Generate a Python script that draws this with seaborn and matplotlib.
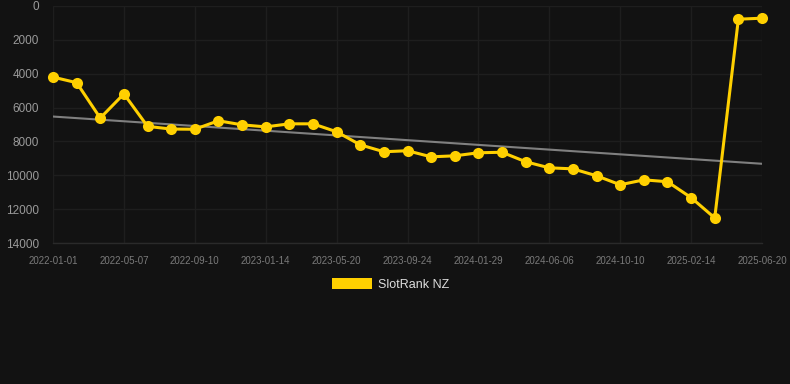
import numpy as np
import pandas as pd
import matplotlib
matplotlib.use("Agg")
import matplotlib.pyplot as plt
from matplotlib.patches import Patch
import seaborn as sns

# ---- data ----
tick_labels = ["2022-01-01", "2022-05-07", "2022-09-10", "2023-01-14", "2023-05-20",
               "2023-09-24", "2024-01-29", "2024-06-06", "2024-10-10", "2025-02-14",
               "2025-06-20"]
rank_values = [4200, 4530, 6620, 5190, 7110, 7270, 7280, 6780, 7020, 7140,
               6960, 6960, 7430, 8200, 8610, 8550, 8910, 8850, 8670, 8640,
               9200, 9560, 9620, 10030, 10560, 10270, 10380, 11320, 12520, 780, 720]
trend_values = [6530, 9320]   # trend line at first and last point
series_name = "SlotRank NZ"

BG = "#121212"
GOLD = "#FFD000"

sns.set_theme(style="dark")
plt.rcParams["font.family"] = ["Liberation Sans", "DejaVu Sans"]

df = pd.DataFrame({"idx": np.arange(len(rank_values)), "rank": rank_values})
trend_df = pd.DataFrame({"idx": [0, len(rank_values) - 1], "rank": trend_values})

fig = plt.figure(figsize=(7.9, 3.84), dpi=100, facecolor=BG)
ax = fig.add_axes([53 / 790, 1 - 243 / 384, 709 / 790, 237 / 384])
ax.set_facecolor(BG)

sns.lineplot(data=trend_df, x="idx", y="rank", ax=ax, color="#808080",
             linewidth=1.5, zorder=2)
sns.lineplot(data=df, x="idx", y="rank", ax=ax, color=GOLD, linewidth=2.2,
             marker="o", markersize=8, markeredgewidth=0, zorder=3, clip_on=False)

ax.set_xlim(0, len(rank_values) - 1)
ax.set_ylim(14000, 0)
ax.set_yticks(np.arange(0, 14001, 2000))
ax.set_yticklabels([str(v) for v in range(0, 14001, 2000)])
ax.set_xticks(np.arange(0, len(rank_values), 3))
ax.set_xticklabels(tick_labels)

ax.grid(True, color="#1e1e1e", linewidth=1.0)
ax.set_axisbelow(True)
for name, s in ax.spines.items():
    s.set_visible(name == "bottom")
ax.spines["bottom"].set_color("#2a2a2a")
ax.spines["bottom"].set_linewidth(1.0)
ax.tick_params(axis="y", colors="#9a9a9a", labelsize=8.5, length=0, pad=10)
ax.tick_params(axis="x", colors="#7a7a7a", labelcolor="#7a7a7a", labelsize=7,
               length=5, width=1, pad=4, direction="out")
ax.tick_params(axis="x", color="#1e1e1e")
ax.set_xlabel("")
ax.set_ylabel("")

handles = [Patch(facecolor=GOLD, edgecolor="none")]
leg = fig.legend(handles, [series_name], loc="center", bbox_to_anchor=(0.494, 0.26),
                 frameon=False, fontsize=9, handlelength=3.2, handleheight=0.95,
                 handletextpad=0.5, borderpad=0)
for t in leg.get_texts():
    t.set_color("#dddddd")

fig.savefig("out.png", dpi=100, facecolor=BG)
